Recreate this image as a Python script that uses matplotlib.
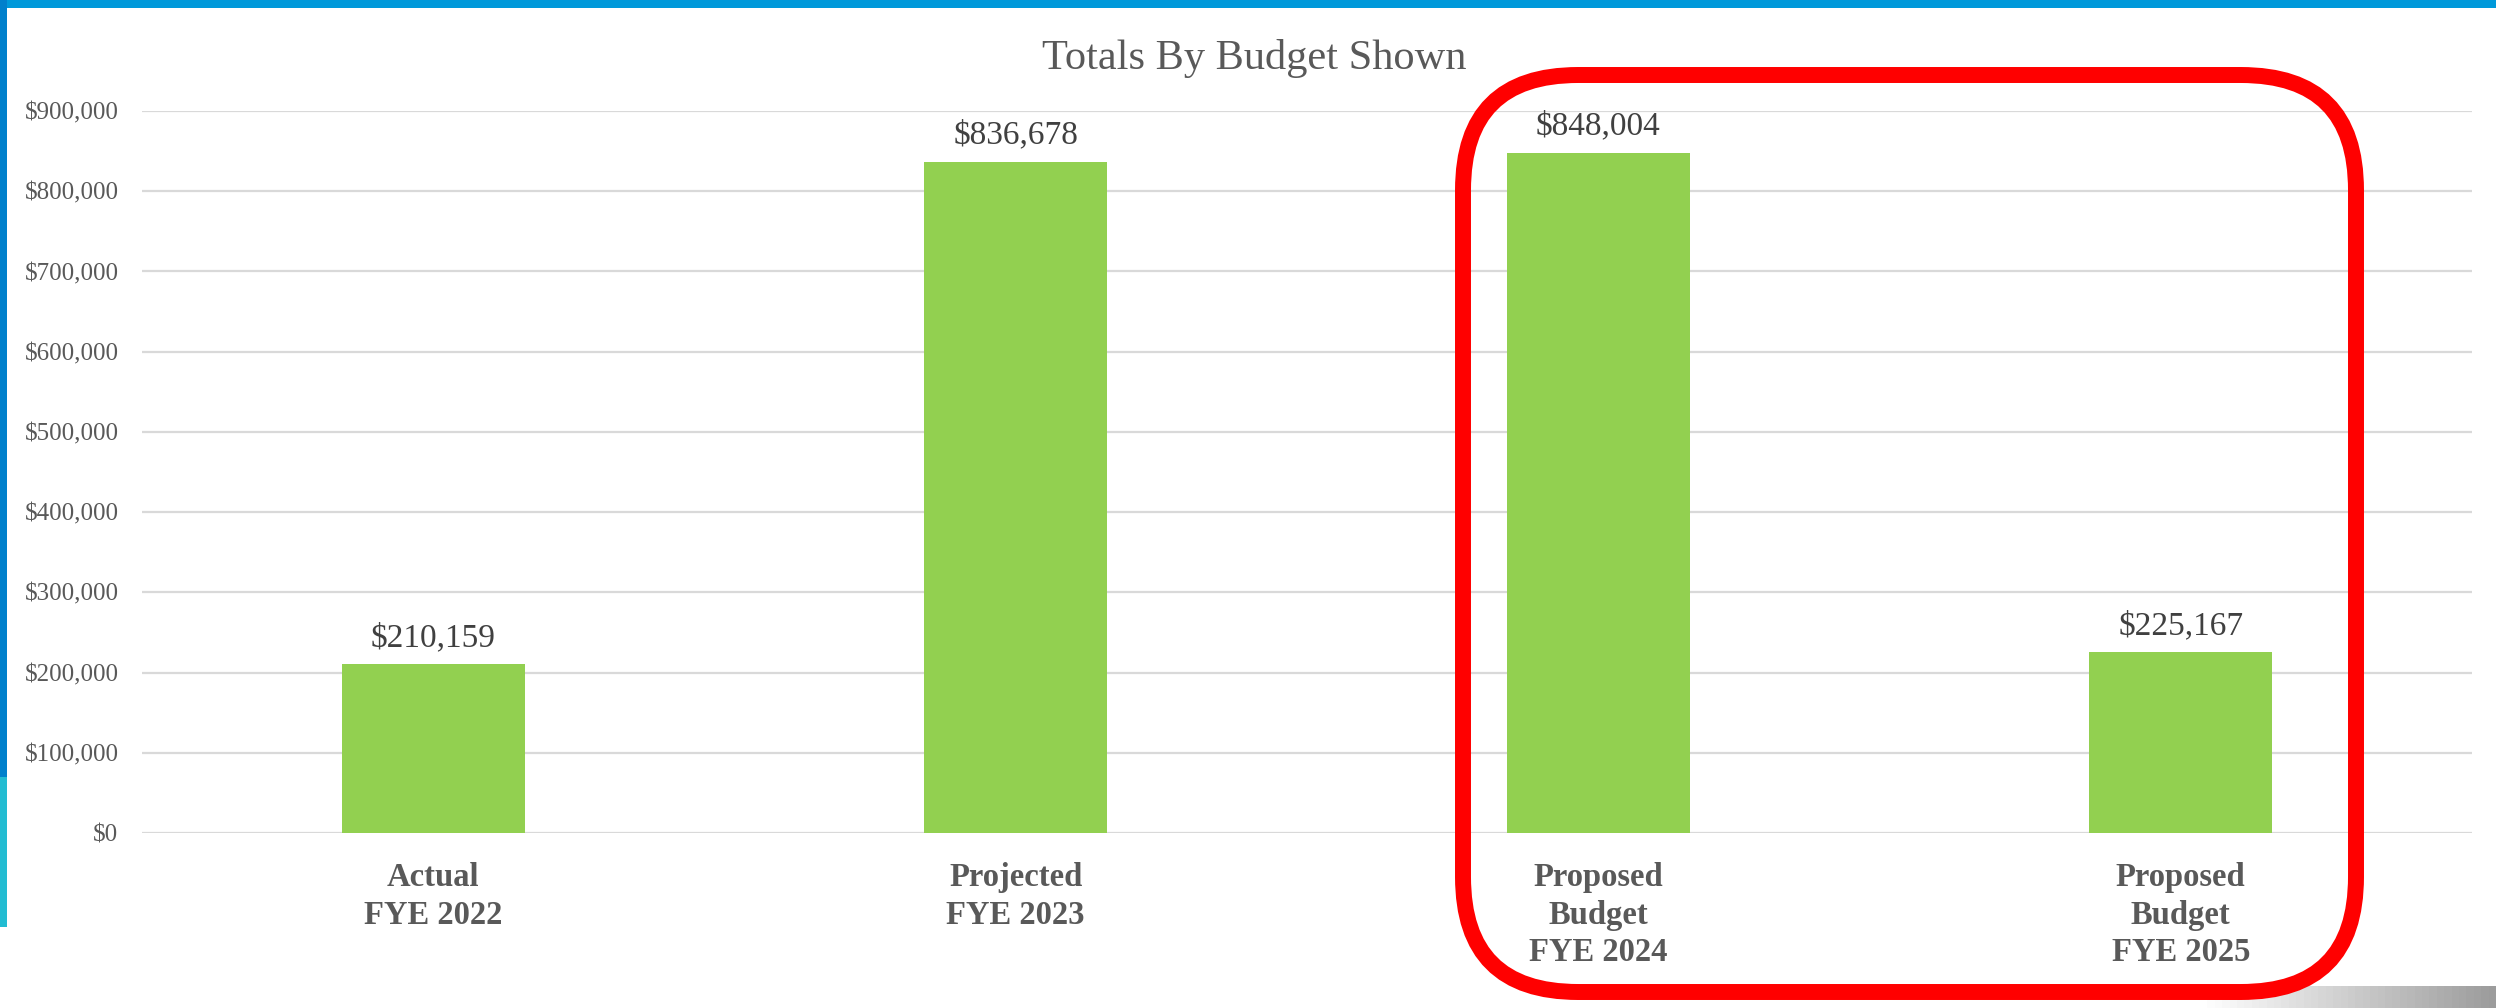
import matplotlib
matplotlib.use("Agg")
import matplotlib.pyplot as plt
import numpy as np
from matplotlib.patches import FancyBboxPatch, Rectangle
from matplotlib.transforms import IdentityTransform
from matplotlib.ticker import FuncFormatter

# data
categories = ["Actual\nFYE 2022", "Projected\nFYE 2023",
              "Proposed\nBudget\nFYE 2024", "Proposed\nBudget\nFYE 2025"]
totals = [210159, 836678, 848004, 225167]
y_ticks = [0, 100000, 200000, 300000, 400000, 500000, 600000, 700000, 800000, 900000]

GREEN = "#92D050"
GREY_TXT = "#595959"
GRID = "#D9D9D9"
BLUE = "#0099DA"

plt.rcParams['font.family'] = ['Liberation Serif', 'DejaVu Serif']

W, H, DPI = 2496, 1008, 100
fig = plt.figure(figsize=(W / DPI, H / DPI), dpi=DPI)
fig.patch.set_facecolor("white")

ax = fig.add_axes([142 / W, 1 - 833 / H, (2472 - 142) / W, (833 - 111) / H])
x = np.arange(len(categories))
bars = ax.bar(x, totals, width=0.314, color=GREEN, zorder=3)

ax.set_xlim(-0.5, len(categories) - 0.5)
ax.set_ylim(0, 900000)
ax.set_yticks(y_ticks)
ax.yaxis.set_major_formatter(FuncFormatter(lambda v, p: f"${v:,.0f}"))
ax.grid(axis="y", color=GRID, linewidth=1.6, zorder=0)
for s in ax.spines.values():
    s.set_visible(False)
ax.tick_params(axis="both", length=0)
ax.tick_params(axis="y", labelsize=18, labelcolor=GREY_TXT, pad=17)
ax.set_xticks(x)
ax.set_xticklabels(categories, fontsize=23.5, fontweight="bold", color=GREY_TXT,
                   linespacing=1.27, va="top")
ax.tick_params(axis="x", pad=21)

ax.bar_label(bars, labels=[f"${v:,.0f}" for v in totals], padding=8,
             fontsize=24, color="#404040")

fig.text(1254 / W, 1 - 58 / H, "Totals By Budget Shown", ha="center", va="center",
         fontsize=30.5, color=GREY_TXT)

# slide frame: blue edges and bottom shadow
fig.patches.append(Rectangle((0, H - 8), W, 8, transform=IdentityTransform(),
                             facecolor=BLUE, edgecolor="none", zorder=5))
fig.patches.append(Rectangle((0, H - 777), 7, 777, transform=IdentityTransform(),
                             facecolor="#0080CC", edgecolor="none", zorder=5))
fig.patches.append(Rectangle((0, H - 927), 7, 150, transform=IdentityTransform(),
                             facecolor="#22BCD2", edgecolor="none", zorder=5))
for i in range(40):
    fig.patches.append(Rectangle((2200 + i * 7.4, 0), 7.4, 22, transform=IdentityTransform(),
                                 facecolor=str(1 - 0.4 * i / 40), edgecolor="none", zorder=1))

# red highlight around the proposed budgets
fig.patches.append(FancyBboxPatch((1463, H - 992), 2356 - 1463, 992 - 75,
                                  boxstyle="round,pad=0,rounding_size=115",
                                  transform=IdentityTransform(), facecolor="none",
                                  edgecolor="#FF0000", linewidth=11.5, zorder=6))

fig.savefig("out.png", dpi=DPI, facecolor="white")
